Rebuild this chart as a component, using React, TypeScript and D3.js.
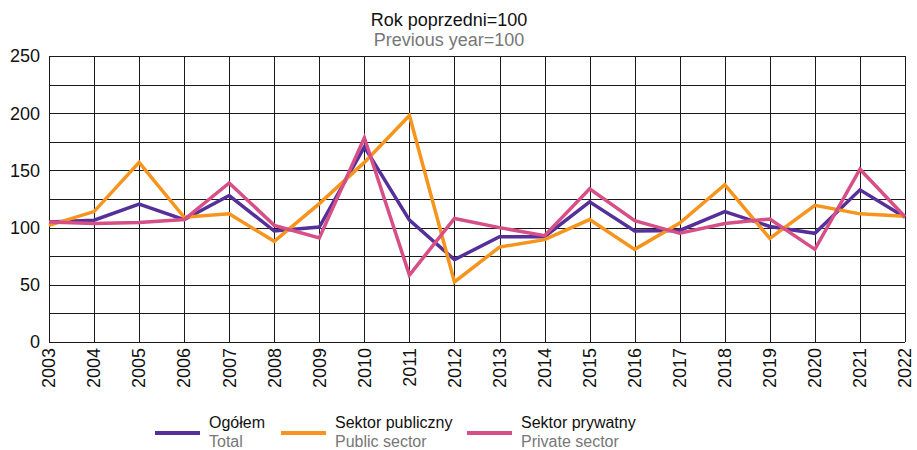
import React, { useEffect, useRef } from 'react';
import * as d3 from 'd3';

const years = ['2003', '2004', '2005', '2006', '2007', '2008', '2009', '2010', '2011', '2012',
  '2013', '2014', '2015', '2016', '2017', '2018', '2019', '2020', '2021', '2022'];

const total = [105, 106.5, 120.5, 107, 128, 97, 100.5, 170.5, 106.5, 72, 92, 92, 122.5, 97, 97.5, 114, 101, 95, 133, 109];
const publicSector = [102, 114, 157, 109, 112, 88, 121, 157, 198, 52.5, 83, 89.5, 107, 81, 104, 137.5, 90.5, 119.5, 112, 110];
const privateSector = [105, 103.5, 104.5, 107, 139, 102, 91, 178.5, 58.5, 108, 100, 93, 134, 106, 95, 103.5, 107.5, 81, 151, 109.5];

const yTicks = [0, 50, 100, 150, 200, 250];
const yGrid = d3.range(0, 251, 25);

const series = [
  { pl: 'Ogółem', en: 'Total', values: total, color: '#55309a' },
  { pl: 'Sektor publiczny', en: 'Public sector', values: publicSector, color: '#f7941d' },
  { pl: 'Sektor prywatny', en: 'Private sector', values: privateSector, color: '#d64f86' },
];

const W = 917;
const H = 450;
const margin = { top: 56, right: 12, bottom: 108, left: 49 };
const font = '"Liberation Sans", Arial, sans-serif';

export default function App() {
  const ref = useRef<SVGSVGElement>(null);

  useEffect(() => {
    const svg = d3.select(ref.current);
    svg.selectAll('*').remove();

    const x = d3.scalePoint().domain(years).range([margin.left, W - margin.right]);
    const y = d3.scaleLinear().domain([0, 250]).range([H - margin.bottom, margin.top]);

    // title
    svg.append('text')
      .attr('x', 449).attr('y', 26)
      .attr('text-anchor', 'middle')
      .style('font-family', font).style('font-size', '18px').attr('fill', '#111')
      .text('Rok poprzedni=100');
    svg.append('text')
      .attr('x', 449).attr('y', 46)
      .attr('text-anchor', 'middle')
      .style('font-family', font).style('font-size', '18px').attr('fill', '#777')
      .text('Previous year=100');

    // grid
    const grid = svg.append('g').attr('stroke', '#1a1a1a').attr('stroke-width', 1);
    grid.selectAll('line.h')
      .data(yGrid)
      .enter().append('line')
      .attr('x1', margin.left).attr('x2', W - margin.right)
      .attr('y1', d => Math.round(y(d)) + 0.5).attr('y2', d => Math.round(y(d)) + 0.5);
    grid.selectAll('line.v')
      .data(years)
      .enter().append('line')
      .attr('x1', d => Math.round(x(d)!) + 0.5).attr('x2', d => Math.round(x(d)!) + 0.5)
      .attr('y1', y(250)).attr('y2', y(0));

    // y labels
    svg.append('g').selectAll('text')
      .data(yTicks)
      .enter().append('text')
      .attr('x', 40).attr('y', d => y(d))
      .attr('dy', '0.35em')
      .attr('text-anchor', 'end')
      .style('font-family', font).style('font-size', '18px').attr('fill', '#111')
      .text(d => d);

    // x labels
    svg.append('g').selectAll('text')
      .data(years)
      .enter().append('text')
      .attr('transform', d => `translate(${x(d)},${y(0) + 6}) rotate(-90)`)
      .attr('dy', '0.35em')
      .attr('text-anchor', 'end')
      .style('font-family', font).style('font-size', '18px').attr('fill', '#111')
      .text(d => d);

    const line = d3.line<number>()
      .x((_, i) => x(years[i])!)
      .y(d => y(d));

    series.forEach(s => {
      svg.append('path')
        .datum(s.values)
        .attr('d', line)
        .attr('fill', 'none')
        .attr('stroke', s.color)
        .attr('stroke-width', 3.5)
        .attr('stroke-linejoin', 'miter');
    });

    // legend
    const legendX = [155, 281, 467];
    const lg = svg.append('g');
    series.forEach((s, i) => {
      const g = lg.append('g').attr('transform', `translate(${legendX[i]},0)`);
      g.append('line')
        .attr('x1', 0).attr('x2', 45).attr('y1', 433).attr('y2', 433)
        .attr('stroke', s.color).attr('stroke-width', 4);
      g.append('text')
        .attr('x', 54).attr('y', 428)
        .style('font-family', font).style('font-size', '16px').attr('fill', '#111')
        .text(s.pl);
      g.append('text')
        .attr('x', 54).attr('y', 447)
        .style('font-family', font).style('font-size', '16px').attr('fill', '#777')
        .text(s.en);
    });
  }, []);

  return (
    <svg ref={ref} width={W} height={H}
      style={{ position: 'absolute', left: 0, top: 0, background: '#fff' }} />
  );
}
